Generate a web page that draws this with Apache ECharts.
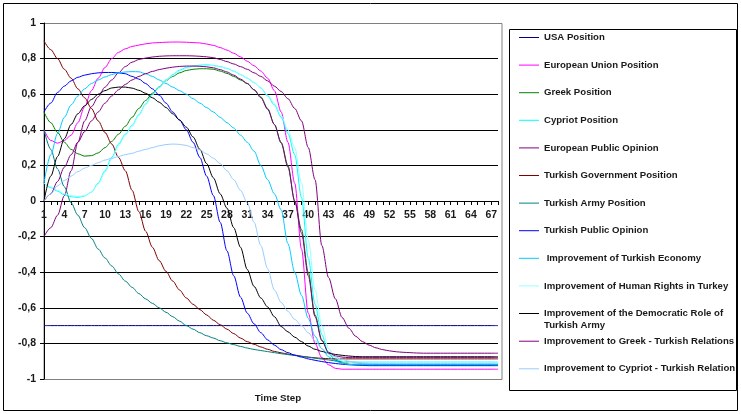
<!DOCTYPE html>
<html>
<head>
<meta charset="utf-8">
<script src="https://cdn.jsdelivr.net/npm/echarts@6/dist/echarts.min.js"></script>
<style>
  html, body { margin: 0; padding: 0; background: #ffffff; }
  #chart { width: 741px; height: 414px; }
</style>
</head>
<body>
<div id="chart"></div>
<script>
// Time steps on the horizontal axis
const timeSteps = [
  '1', '2', '3', '4', '5', '6', '7', '8', '9', '10',
  '11', '12', '13', '14', '15', '16', '17', '18', '19', '20',
  '21', '22', '23', '24', '25', '26', '27', '28', '29', '30',
  '31', '32', '33', '34', '35', '36', '37', '38', '39', '40',
  '41', '42', '43', '44', '45', '46', '47', '48', '49', '50',
  '51', '52', '53', '54', '55', '56', '57', '58', '59', '60',
  '61', '62', '63', '64', '65', '66', '67', '68'
];

const usaPosition = [
  -0.7, -0.7, -0.7, -0.7, -0.7, -0.7, -0.7, -0.7, -0.7, -0.7,
  -0.7, -0.7, -0.7, -0.7, -0.7, -0.7, -0.7, -0.7, -0.7, -0.7,
  -0.7, -0.7, -0.7, -0.7, -0.7, -0.7, -0.7, -0.7, -0.7, -0.7,
  -0.7, -0.7, -0.7, -0.7, -0.7, -0.7, -0.7, -0.7, -0.7, -0.7,
  -0.7, -0.7, -0.7, -0.7, -0.7, -0.7, -0.7, -0.7, -0.7, -0.7,
  -0.7, -0.7, -0.7, -0.7, -0.7, -0.7, -0.7, -0.7, -0.7, -0.7,
  -0.7, -0.7, -0.7, -0.7, -0.7, -0.7, -0.7, -0.7
];

const euPosition = [
  0.40, 0.34, 0.325, 0.34, 0.37, 0.44, 0.53, 0.62, 0.69, 0.75,
  0.80, 0.835, 0.855, 0.868, 0.876, 0.883, 0.888, 0.89, 0.892, 0.893,
  0.893, 0.892, 0.89, 0.888, 0.882, 0.874, 0.862, 0.848, 0.83, 0.81,
  0.785, 0.76, 0.73, 0.69, 0.62, 0.50, 0.33, 0.10, -0.27, -0.63,
  -0.80, -0.88, -0.92, -0.94, -0.945, -0.945, -0.945, -0.945, -0.945, -0.945,
  -0.945, -0.945, -0.945, -0.945, -0.945, -0.945, -0.945, -0.945, -0.945, -0.945,
  -0.945, -0.945, -0.945, -0.945, -0.945, -0.945, -0.945, -0.945
];

const greekPosition = [
  0.50, 0.44, 0.385, 0.33, 0.29, 0.265, 0.252, 0.255, 0.27, 0.30,
  0.335, 0.375, 0.42, 0.47, 0.52, 0.565, 0.605, 0.64, 0.675, 0.70,
  0.72, 0.733, 0.74, 0.743, 0.743, 0.74, 0.73, 0.717, 0.70, 0.68,
  0.66, 0.625, 0.585, 0.52, 0.43, 0.33, 0.20, 0.00, -0.16, -0.40,
  -0.64, -0.78, -0.856, -0.895, -0.91, -0.917, -0.92, -0.92, -0.92, -0.92,
  -0.92, -0.92, -0.92, -0.92, -0.92, -0.92, -0.92, -0.92, -0.92, -0.92,
  -0.92, -0.92, -0.92, -0.92, -0.92, -0.92, -0.92, -0.92
];

const cypriotPosition = [
  0.10, 0.075, 0.055, 0.035, 0.024, 0.02, 0.028, 0.05, 0.10, 0.17,
  0.245, 0.32, 0.375, 0.425, 0.485, 0.545, 0.60, 0.64, 0.68, 0.71,
  0.735, 0.75, 0.758, 0.763, 0.765, 0.762, 0.755, 0.745, 0.73, 0.71,
  0.69, 0.665, 0.635, 0.59, 0.54, 0.47, 0.38, 0.26, 0.02, -0.32,
  -0.58, -0.75, -0.86, -0.89, -0.90, -0.903, -0.905, -0.905, -0.905, -0.905,
  -0.905, -0.905, -0.905, -0.905, -0.905, -0.905, -0.905, -0.905, -0.905, -0.905,
  -0.905, -0.905, -0.905, -0.905, -0.905, -0.905, -0.905, -0.905
];

const europeanPublicOpinion = [
  -0.20, -0.15, -0.08, 0.03, 0.17, 0.33, 0.45, 0.53, 0.585, 0.64,
  0.68, 0.72, 0.755, 0.78, 0.795, 0.803, 0.809, 0.813, 0.815, 0.816,
  0.816, 0.816, 0.815, 0.813, 0.81, 0.805, 0.795, 0.783, 0.77, 0.755,
  0.74, 0.72, 0.70, 0.675, 0.645, 0.615, 0.575, 0.52, 0.45, 0.30,
  0.12, -0.25, -0.43, -0.55, -0.655, -0.715, -0.76, -0.79, -0.81, -0.825,
  -0.835, -0.842, -0.847, -0.85, -0.852, -0.854, -0.855, -0.855, -0.855, -0.855,
  -0.855, -0.855, -0.855, -0.855, -0.855, -0.855, -0.855, -0.855
];

const turkishGovernmentPosition = [
  0.90, 0.85, 0.80, 0.74, 0.69, 0.63, 0.58, 0.52, 0.45, 0.385,
  0.32, 0.245, 0.17, 0.06, -0.06, -0.17, -0.26, -0.335, -0.395, -0.45,
  -0.50, -0.545, -0.58, -0.61, -0.64, -0.67, -0.695, -0.72, -0.745, -0.77,
  -0.79, -0.805, -0.82, -0.833, -0.845, -0.853, -0.86, -0.866, -0.872, -0.877,
  -0.881, -0.884, -0.886, -0.887, -0.887, -0.887, -0.887, -0.887, -0.887, -0.887,
  -0.887, -0.887, -0.887, -0.887, -0.887, -0.887, -0.887, -0.887, -0.887, -0.887,
  -0.887, -0.887, -0.887, -0.887, -0.887, -0.887, -0.887, -0.887
];

const turkishArmyPosition = [
  0.40, 0.29, 0.18, 0.08, -0.01, -0.08, -0.15, -0.21, -0.27, -0.32,
  -0.365, -0.41, -0.45, -0.485, -0.52, -0.55, -0.575, -0.60, -0.625, -0.65,
  -0.675, -0.70, -0.72, -0.74, -0.757, -0.77, -0.785, -0.797, -0.807, -0.817,
  -0.826, -0.834, -0.84, -0.846, -0.852, -0.858, -0.863, -0.868, -0.873, -0.878,
  -0.883, -0.888, -0.893, -0.898, -0.903, -0.907, -0.91, -0.913, -0.915, -0.917,
  -0.918, -0.919, -0.92, -0.92, -0.92, -0.92, -0.92, -0.92, -0.92, -0.92,
  -0.92, -0.92, -0.92, -0.92, -0.92, -0.92, -0.92, -0.92
];

const turkishPublicOpinion = [
  0.50, 0.55, 0.61, 0.645, 0.675, 0.695, 0.707, 0.715, 0.72, 0.722,
  0.722, 0.72, 0.715, 0.70, 0.685, 0.66, 0.63, 0.595, 0.55, 0.50,
  0.455, 0.40, 0.33, 0.245, 0.14, 0.03, -0.12, -0.28, -0.42, -0.54,
  -0.63, -0.69, -0.74, -0.78, -0.81, -0.835, -0.852, -0.866, -0.877, -0.887,
  -0.895, -0.902, -0.908, -0.913, -0.917, -0.92, -0.922, -0.924, -0.925, -0.925,
  -0.925, -0.925, -0.925, -0.925, -0.925, -0.925, -0.925, -0.925, -0.925, -0.925,
  -0.925, -0.925, -0.925, -0.925, -0.925, -0.925, -0.925, -0.925
];

const turkishEconomy = [
  0.10, 0.26, 0.38, 0.47, 0.54, 0.59, 0.63, 0.66, 0.68, 0.697,
  0.71, 0.72, 0.725, 0.727, 0.726, 0.715, 0.70, 0.68, 0.66, 0.64,
  0.62, 0.60, 0.575, 0.55, 0.525, 0.50, 0.47, 0.44, 0.41, 0.37,
  0.33, 0.28, 0.20, 0.12, 0.04, -0.05, -0.24, -0.40, -0.53, -0.66,
  -0.76, -0.83, -0.875, -0.90, -0.912, -0.918, -0.92, -0.92, -0.92, -0.92,
  -0.92, -0.92, -0.92, -0.92, -0.92, -0.92, -0.92, -0.92, -0.92, -0.92,
  -0.92, -0.92, -0.92, -0.92, -0.92, -0.92, -0.92, -0.92
];

const humanRights = [
  0.10, 0.08, 0.06, 0.04, 0.03, 0.025, 0.03, 0.05, 0.095, 0.16,
  0.235, 0.31, 0.37, 0.42, 0.48, 0.54, 0.595, 0.635, 0.675, 0.705,
  0.73, 0.745, 0.755, 0.76, 0.762, 0.76, 0.753, 0.743, 0.728, 0.71,
  0.69, 0.665, 0.635, 0.595, 0.55, 0.48, 0.40, 0.30, 0.10, -0.22,
  -0.50, -0.70, -0.83, -0.88, -0.90, -0.907, -0.91, -0.91, -0.91, -0.91,
  -0.91, -0.91, -0.91, -0.91, -0.91, -0.91, -0.91, -0.91, -0.91, -0.91,
  -0.91, -0.91, -0.91, -0.91, -0.91, -0.91, -0.91, -0.91
];

const democraticRoleOfArmy = [
  0.00, 0.14, 0.25, 0.35, 0.43, 0.49, 0.535, 0.57, 0.60, 0.62,
  0.635, 0.64, 0.64, 0.634, 0.622, 0.605, 0.58, 0.555, 0.525, 0.49,
  0.455, 0.415, 0.36, 0.29, 0.21, 0.13, 0.04, -0.04, -0.15, -0.26,
  -0.385, -0.48, -0.545, -0.595, -0.65, -0.705, -0.735, -0.765, -0.79, -0.815,
  -0.833, -0.845, -0.855, -0.862, -0.867, -0.871, -0.874, -0.875, -0.875, -0.875,
  -0.875, -0.875, -0.875, -0.875, -0.875, -0.875, -0.875, -0.875, -0.875, -0.875,
  -0.875, -0.875, -0.875, -0.875, -0.875, -0.875, -0.875, -0.875
];

const greekTurkishRelations = [
  0.00, 0.04, 0.11, 0.19, 0.26, 0.33, 0.39, 0.45, 0.50, 0.55,
  0.59, 0.625, 0.655, 0.68, 0.70, 0.715, 0.728, 0.738, 0.746, 0.752,
  0.756, 0.758, 0.758, 0.757, 0.754, 0.748, 0.738, 0.725, 0.707, 0.685,
  0.66, 0.625, 0.58, 0.515, 0.43, 0.325, 0.19, 0.00, -0.18, -0.42,
  -0.65, -0.785, -0.85, -0.87, -0.877, -0.88, -0.88, -0.88, -0.88, -0.88,
  -0.88, -0.88, -0.88, -0.88, -0.88, -0.88, -0.88, -0.88, -0.88, -0.88,
  -0.88, -0.88, -0.88, -0.88, -0.88, -0.88, -0.88, -0.88
];

const cypriotTurkishRelations = [
  0.00, 0.04, 0.085, 0.115, 0.14, 0.165, 0.185, 0.20, 0.215, 0.23,
  0.24, 0.25, 0.26, 0.268, 0.28, 0.29, 0.30, 0.31, 0.317, 0.32,
  0.318, 0.312, 0.30, 0.287, 0.265, 0.24, 0.21, 0.17, 0.12, 0.06,
  -0.01, -0.12, -0.25, -0.38, -0.50, -0.57, -0.62, -0.665, -0.70, -0.74,
  -0.785, -0.83, -0.86, -0.875, -0.89, -0.90, -0.905, -0.91, -0.912, -0.913,
  -0.913, -0.913, -0.913, -0.913, -0.913, -0.913, -0.913, -0.913, -0.913, -0.913,
  -0.913, -0.913, -0.913, -0.913, -0.913, -0.913, -0.913, -0.913
];

const seriesNames = [
  'USA Position',
  'European Union Position',
  'Greek Position',
  'Cypriot Position',
  'European Public Opinion',
  'Turkish Government Position',
  'Turkish Army Position',
  'Turkish Public Opinion',
  ' Improvement of Turkish Economy',
  'Improvement of Human Rights in Turkey',
  'Improvement of the Democratic Role of Turkish Army',
  'Improvement to Greek - Turkish Relations',
  'Improvement to Cypriot - Turkish Relations'
];

const seriesValues = [
  usaPosition, euPosition, greekPosition, cypriotPosition,
  europeanPublicOpinion, turkishGovernmentPosition, turkishArmyPosition,
  turkishPublicOpinion, turkishEconomy, humanRights,
  democraticRoleOfArmy, greekTurkishRelations, cypriotTurkishRelations
];

const seriesColors = [
  '#000080', '#ff00ff', '#008000', '#00ffff', '#800080', '#800000', '#008080',
  '#0000ff', '#00ccff', '#99ffff', '#000000', '#800080', '#99ccff'
];

const FONT = '"Liberation Sans", Arial, sans-serif';

// plot box in pixels; the value axis spans -1..1, so 0 sits halfway down
const PLOT_TOP = 23;
const PLOT_HEIGHT = 356;

const chart = echarts.init(document.getElementById('chart'), null, { renderer: 'canvas' });

const series = seriesNames.map((name, i) => ({
  name: name,
  type: 'line',
  data: seriesValues[i],
  showSymbol: false,
  symbol: 'none',
  smooth: 0.3,
  smoothMonotone: 'x',
  lineStyle: { color: seriesColors[i], width: 1 },
  itemStyle: { color: seriesColors[i] },
  emphasis: { disabled: true },
  animation: false
}));

const legendText = { fontFamily: FONT, fontSize: 9.6, fontWeight: 'bold', color: '#1a1a1a', lineHeight: 12 };
const axisText = { fontFamily: FONT, fontSize: 10.5, fontWeight: 'bold', color: '#1a1a1a' };

function decimalComma(v) {
  const r = Math.round(v * 10) / 10;
  return String(r).replace('.', ',');
}

chart.setOption({
  backgroundColor: '#ffffff',
  animation: false,
  title: {
    text: 'Time Step',
    left: 273,
    top: 388,
    textAlign: 'center',
    textStyle: { fontFamily: FONT, fontSize: 9.75, fontWeight: 'bold', color: '#1a1a1a' }
  },
  grid: {
    left: 44, top: PLOT_TOP, right: 243, height: PLOT_HEIGHT,
    show: false
  },
  xAxis: {
    type: 'category',
    data: timeSteps,
    boundaryGap: false,
    // the time axis crosses the value axis at 0
    offset: -PLOT_HEIGHT / 2,
    axisLine: { onZero: false, lineStyle: { color: '#000', width: 1 } },
    axisTick: { show: true, inside: false, length: 4, interval: 0, lineStyle: { color: '#000' } },
    axisLabel: Object.assign({}, axisText, { margin: 9, interval: 2 }),
    splitLine: { show: false }
  },
  yAxis: {
    type: 'value',
    min: -1,
    max: 1,
    interval: 0.2,
    axisLine: { show: true, onZero: false, lineStyle: { color: '#000', width: 1 } },
    axisTick: { show: true, inside: false, length: 4, lineStyle: { color: '#000' } },
    axisLabel: Object.assign({}, axisText, { margin: 8, formatter: decimalComma }),
    splitLine: { show: true, showMinLine: false, showMaxLine: false, lineStyle: { color: '#000', width: 1 } }
  },
  legend: [
    {
      data: seriesNames.slice(0, 10),
      orient: 'vertical',
      left: 519, top: 31.5,
      padding: 0,
      icon: 'rect', itemWidth: 20, itemHeight: 1,
      itemGap: 15.6,
      selectedMode: false,
      textStyle: legendText
    },
    {
      // the blank first line keeps the wrapped label's first row level with its line sample
      data: [seriesNames[10]],
      orient: 'vertical',
      left: 519, top: 295.5,
      padding: 0,
      icon: 'rect', itemWidth: 20, itemHeight: 1,
      selectedMode: false,
      formatter: () => '\nImprovement of the Democratic Role of\nTurkish Army',
      textStyle: legendText
    },
    {
      data: seriesNames.slice(11),
      orient: 'vertical',
      left: 519, top: 335.2,
      padding: 0,
      icon: 'rect', itemWidth: 20, itemHeight: 1,
      itemGap: 15.6,
      selectedMode: false,
      textStyle: Object.assign({}, legendText, { width: 193, overflow: 'truncate', ellipsis: '' })
    }
  ],
  graphic: [
    {
      // plot-area frame (grey), slightly wider than the last time step
      type: 'rect', silent: true, z: -1,
      shape: { x: 44, y: 23.5, width: 458, height: 356 },
      style: { fill: 'none', stroke: '#808080', lineWidth: 1 }
    },
    {
      type: 'rect', silent: true, z: 100,
      shape: { x: 3.5, y: 3.5, width: 734, height: 407 },
      style: { fill: 'none', stroke: '#000', lineWidth: 1 }
    },
    {
      type: 'rect', silent: true, z: 100,
      shape: { x: 509.5, y: 29.5, width: 227, height: 361 },
      style: { fill: 'none', stroke: '#000', lineWidth: 1 }
    }
  ],
  series: series
});
</script>
</body>
</html>
